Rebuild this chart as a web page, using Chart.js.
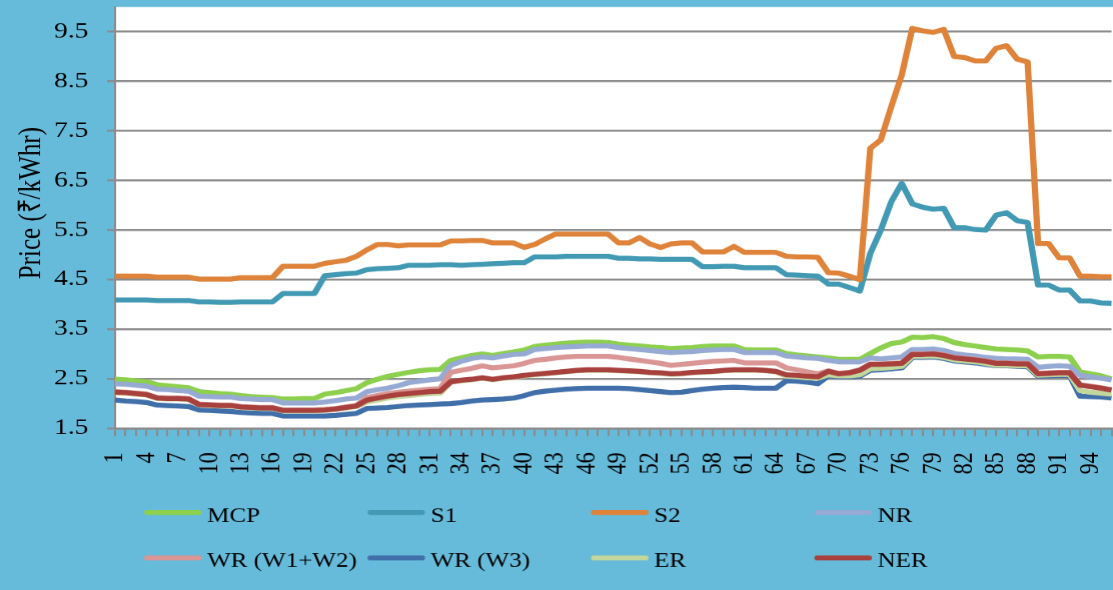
<!DOCTYPE html>
<html><head><meta charset="utf-8">
<script src="https://cdn.jsdelivr.net/npm/chart.js@4.4.1/dist/chart.umd.min.js"></script>
<style>html,body{margin:0;padding:0;background:#66BBDA;overflow:hidden}canvas{display:block}</style>
</head><body>
<canvas id="c" width="890" height="590" style="width:1113px;height:590px"></canvas>
<script>
const categories = Array.from({length:96},(_, i)=>String(i+1));
const yTickValues = [1.5,2.5,3.5,4.5,5.5,6.5,7.5,8.5,9.5];
const yTitle = 'Price (₹/kWhr)';

const MCP = [2.49,2.48,2.46,2.44,2.38,2.36,2.34,2.32,2.24,2.22,2.20,2.19,2.16,2.14,2.13,2.12,2.09,2.09,2.10,2.10,2.19,2.22,2.26,2.30,2.42,2.49,2.55,2.59,2.63,2.66,2.68,2.69,2.87,2.92,2.97,3.00,2.97,3.01,3.04,3.08,3.15,3.18,3.20,3.22,3.23,3.24,3.24,3.23,3.20,3.18,3.16,3.14,3.13,3.11,3.12,3.13,3.15,3.16,3.16,3.16,3.09,3.08,3.08,3.08,3.01,2.98,2.96,2.94,2.92,2.89,2.89,2.89,3.01,3.12,3.21,3.24,3.34,3.33,3.35,3.31,3.23,3.19,3.16,3.13,3.10,3.09,3.08,3.06,2.94,2.95,2.95,2.94,2.64,2.60,2.56,2.50];
const S1 = [4.09,4.09,4.09,4.09,4.08,4.08,4.08,4.08,4.05,4.05,4.04,4.04,4.05,4.05,4.05,4.05,4.22,4.22,4.22,4.22,4.58,4.60,4.62,4.63,4.70,4.72,4.73,4.74,4.79,4.79,4.79,4.80,4.80,4.79,4.80,4.81,4.82,4.83,4.84,4.84,4.96,4.96,4.96,4.97,4.97,4.97,4.97,4.97,4.93,4.93,4.92,4.92,4.91,4.91,4.91,4.91,4.76,4.76,4.77,4.77,4.74,4.74,4.74,4.74,4.60,4.59,4.58,4.57,4.41,4.41,4.34,4.27,5.03,5.50,6.07,6.44,6.03,5.96,5.92,5.94,5.55,5.55,5.51,5.50,5.80,5.85,5.69,5.65,4.39,4.39,4.29,4.29,4.07,4.07,4.03,4.02];
const S2 = [4.57,4.57,4.57,4.57,4.55,4.55,4.55,4.55,4.51,4.51,4.51,4.51,4.54,4.54,4.54,4.54,4.77,4.77,4.77,4.77,4.83,4.86,4.89,4.97,5.10,5.21,5.21,5.18,5.20,5.20,5.20,5.20,5.28,5.28,5.29,5.29,5.24,5.24,5.24,5.15,5.21,5.32,5.42,5.42,5.42,5.42,5.42,5.42,5.24,5.24,5.35,5.22,5.15,5.22,5.24,5.24,5.06,5.06,5.06,5.17,5.05,5.05,5.05,5.05,4.97,4.96,4.96,4.95,4.64,4.63,4.57,4.50,7.15,7.32,7.99,8.63,9.57,9.52,9.49,9.55,9.00,8.98,8.91,8.91,9.17,9.22,8.95,8.89,5.23,5.23,4.94,4.94,4.57,4.57,4.56,4.56];
const NR = [2.40,2.39,2.37,2.35,2.29,2.28,2.26,2.25,2.15,2.14,2.13,2.13,2.10,2.09,2.08,2.08,2.01,2.01,2.01,2.01,2.03,2.06,2.09,2.11,2.24,2.28,2.31,2.36,2.42,2.45,2.48,2.50,2.77,2.85,2.91,2.94,2.92,2.96,2.99,3.00,3.09,3.11,3.13,3.14,3.15,3.16,3.16,3.16,3.13,3.11,3.09,3.07,3.05,3.03,3.04,3.05,3.07,3.08,3.09,3.09,3.03,3.03,3.03,3.03,2.96,2.94,2.92,2.91,2.87,2.84,2.84,2.84,2.92,2.90,2.92,2.94,3.09,3.09,3.10,3.07,3.01,2.98,2.96,2.93,2.91,2.90,2.90,2.89,2.73,2.75,2.76,2.75,2.57,2.54,2.51,2.48];
const WR_W1W2 = [2.24,2.23,2.21,2.19,2.12,2.11,2.11,2.10,1.99,1.98,1.97,1.97,1.94,1.93,1.92,1.92,1.87,1.87,1.87,1.87,1.88,1.90,1.93,1.96,2.12,2.16,2.20,2.23,2.25,2.27,2.29,2.30,2.63,2.67,2.71,2.76,2.72,2.74,2.76,2.81,2.87,2.89,2.92,2.94,2.95,2.95,2.95,2.95,2.93,2.90,2.87,2.84,2.81,2.77,2.79,2.81,2.83,2.85,2.86,2.87,2.82,2.82,2.82,2.82,2.72,2.68,2.64,2.60,2.66,2.61,2.63,2.68,2.80,2.80,2.81,2.82,3.00,3.00,3.01,2.98,2.93,2.91,2.89,2.86,2.82,2.82,2.81,2.81,2.61,2.62,2.63,2.63,2.38,2.35,2.32,2.28];
const WR_W3 = [2.07,2.05,2.04,2.02,1.97,1.96,1.95,1.94,1.87,1.86,1.85,1.84,1.82,1.81,1.80,1.80,1.75,1.75,1.75,1.75,1.75,1.76,1.78,1.80,1.90,1.91,1.92,1.94,1.96,1.97,1.98,1.99,2.00,2.02,2.05,2.07,2.08,2.09,2.11,2.16,2.22,2.25,2.27,2.29,2.30,2.31,2.31,2.31,2.31,2.30,2.28,2.26,2.24,2.22,2.23,2.26,2.29,2.31,2.32,2.33,2.32,2.31,2.31,2.31,2.46,2.45,2.43,2.40,2.56,2.54,2.54,2.55,2.67,2.68,2.70,2.72,2.93,2.93,2.94,2.91,2.86,2.84,2.82,2.79,2.76,2.76,2.75,2.74,2.55,2.56,2.57,2.57,2.15,2.14,2.13,2.11];
const ER = [2.22,2.21,2.19,2.17,2.10,2.09,2.09,2.08,1.97,1.96,1.95,1.95,1.92,1.91,1.90,1.90,1.85,1.85,1.85,1.85,1.86,1.88,1.91,1.94,2.03,2.07,2.11,2.14,2.16,2.18,2.20,2.21,2.43,2.46,2.48,2.51,2.48,2.51,2.53,2.56,2.58,2.60,2.62,2.64,2.66,2.67,2.67,2.67,2.66,2.65,2.64,2.62,2.61,2.59,2.60,2.62,2.63,2.64,2.66,2.67,2.67,2.67,2.66,2.64,2.55,2.54,2.52,2.51,2.58,2.56,2.56,2.58,2.70,2.71,2.73,2.75,2.95,2.95,2.96,2.93,2.88,2.86,2.84,2.81,2.77,2.77,2.76,2.76,2.57,2.58,2.59,2.59,2.26,2.23,2.21,2.19];
const NER = [2.23,2.22,2.20,2.18,2.11,2.10,2.10,2.09,1.98,1.97,1.96,1.96,1.93,1.92,1.91,1.91,1.86,1.86,1.86,1.86,1.87,1.89,1.92,1.95,2.07,2.11,2.15,2.18,2.20,2.22,2.24,2.25,2.44,2.47,2.49,2.52,2.49,2.52,2.54,2.57,2.59,2.61,2.63,2.65,2.67,2.68,2.68,2.68,2.67,2.66,2.65,2.63,2.62,2.60,2.61,2.63,2.64,2.65,2.67,2.68,2.68,2.68,2.67,2.65,2.58,2.57,2.55,2.54,2.65,2.60,2.62,2.67,2.79,2.79,2.80,2.81,2.99,2.99,3.00,2.97,2.92,2.90,2.88,2.85,2.81,2.81,2.80,2.80,2.60,2.61,2.62,2.62,2.37,2.34,2.31,2.27];

const seriesNames = ['MCP','S1','S2','NR','WR (W1+W2)','WR (W3)','ER','NER'];
const seriesData = [MCP,S1,S2,NR,WR_W1W2,WR_W3,ER,NER];
const seriesColors = ['#8DD04E','#4299B3','#DE8339','#96AAD4','#D99694','#416FAA','#C3D69B','#A8403E'];

const BG = '#66BBDA';
const FONT = "'Liberation Serif', 'Times New Roman', serif";

const bgPlugin = {
  id:'bg',
  beforeDraw(chart){
    const {ctx, chartArea:a} = chart;
    ctx.save();
    ctx.fillStyle = BG; ctx.fillRect(0,0,chart.width,chart.height);
    ctx.fillStyle = '#fff'; ctx.fillRect(a.left, a.top, chart.width - a.left, a.bottom - a.top);
    ctx.restore();
  }
};
const textPlugin = {
  id:'customText',
  afterDraw(chart){
    const ctx = chart.ctx;
    ctx.save();
    ctx.fillStyle = '#000';
    // y-axis title
    ctx.save();
    ctx.font = "25px " + FONT;
    ctx.textAlign = 'center'; ctx.textBaseline = 'middle';
    ctx.translate(25.6, 203);
    ctx.rotate(-Math.PI/2);
    ctx.fillText(yTitle, 0, 0);
    ctx.restore();
    // legend
    ctx.font = "20px " + FONT;
    ctx.textBaseline = 'middle';
    chart.data.datasets.forEach((ds, i)=>{
      const col = i % 4, row = Math.floor(i/4);
      const x = 117.6 + col*178.6, y = 512 + row*45.5;
      ctx.strokeStyle = ds.borderColor; ctx.lineWidth = 5; ctx.lineCap = 'round';
      ctx.beginPath(); ctx.moveTo(x, y); ctx.lineTo(x+41, y); ctx.stroke();
      ctx.fillText(ds.label, x+48, y+4);
    });
    ctx.restore();
  }
};

new Chart(document.getElementById('c'), {
  type:'line',
  data:{
    labels: categories,
    datasets: seriesNames.map((n,i)=>({
      label:n, data:seriesData[i], borderColor:seriesColors[i], backgroundColor:seriesColors[i],
      borderWidth:5, pointRadius:0, tension:0, borderJoinStyle:'round', fill:false,
      order: seriesNames.length - i
    }))
  },
  options:{
    responsive:false, animation:false, devicePixelRatio:1.25,
    layout:{padding:{top:7,right:1.6,left:0,bottom:0}},
    plugins:{legend:{display:false}, tooltip:{enabled:false}},
    scales:{
      x:{
        type:'category', offset:false,
        grid:{drawOnChartArea:false, drawTicks:true, tickLength:8, color:'#8C8C8C', lineWidth:1.6},
        border:{color:'#8C8C8C', width:2},
        ticks:{autoSkip:false, maxRotation:90, minRotation:90, padding:16, color:'#000',
          font:{family:FONT, size:22},
          callback:(v,i)=> i%3===0 ? categories[i] : ''},
        afterFit(s){ s.height = 162; s.paddingLeft = 0; s.paddingRight = 0; }
      },
      y:{
        min:1.5, max:10,
        afterBuildTicks(s){ s.ticks = yTickValues.map(v=>({value:v})); },
        grid:{color:'#8C8C8C', lineWidth:2, tickLength:6.4},
        border:{color:'#8C8C8C', width:1.6},
        ticks:{padding:15, color:'#000', font:{family:FONT, size:22}, callback:v=>Number(v).toFixed(1)},
        title:{display:false},
        afterFit(s){ s.width = 92; s.paddingTop = 0; s.paddingBottom = 0; }
      }
    }
  },
  plugins:[bgPlugin, textPlugin]
});
</script>
</body></html>
